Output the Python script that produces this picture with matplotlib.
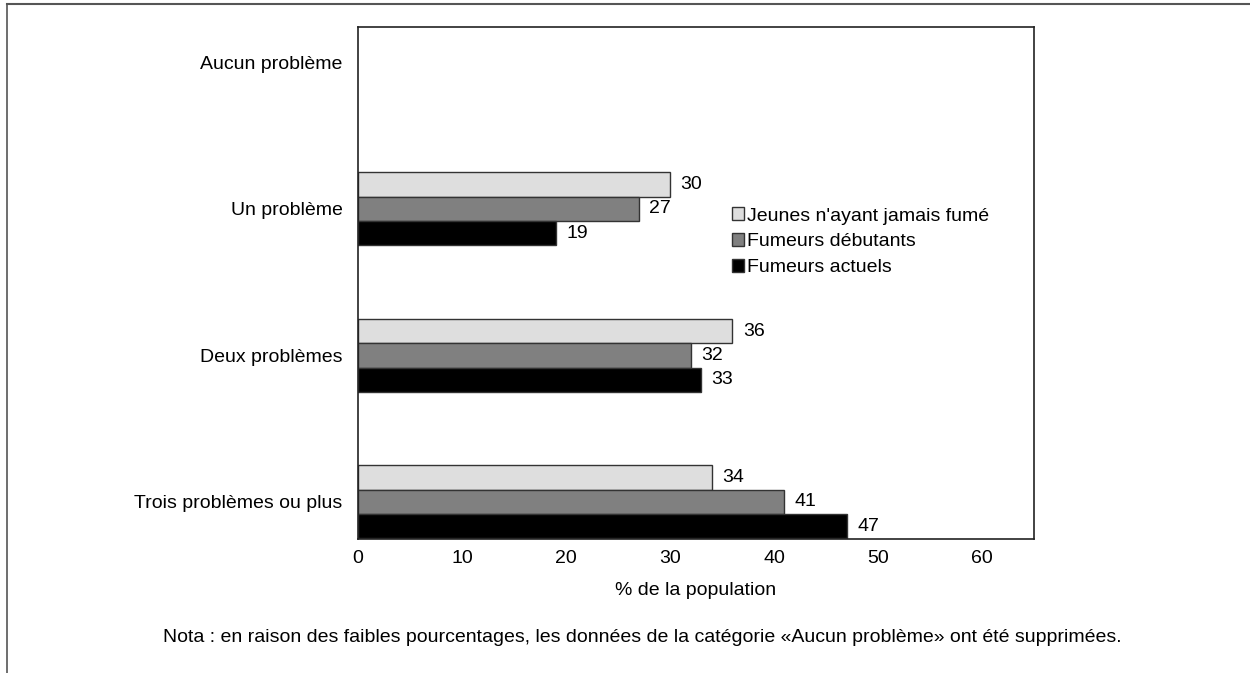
import matplotlib
matplotlib.use("Agg")
import matplotlib.pyplot as plt
from matplotlib.patches import Patch
import numpy as np

categories = ["Aucun problème", "Un problème", "Deux problèmes", "Trois problèmes ou plus"]
series_names = ["Jeunes n'ayant jamais fumé", "Fumeurs débutants", "Fumeurs actuels"]
never_smoked = [None, 30, 36, 34]
beginners = [None, 27, 32, 41]
current = [None, 19, 33, 47]
x_ticks = [0, 10, 20, 30, 40, 50, 60]
x_label = "% de la population"
note = "Nota : en raison des faibles pourcentages, les données de la catégorie «Aucun problème» ont été supprimées."

colors = ["#dedede", "#808080", "#000000"]
fs = 14

plt.rcParams["font.family"] = ["Liberation Sans", "DejaVu Sans"]

fig = plt.figure(figsize=(12.5, 6.73), dpi=100)
ax = fig.add_axes([358 / 1250, 1 - 539 / 673, (1034 - 358) / 1250, (539 - 27) / 673])

# outer frame lines (top and left)
fig.add_artist(plt.Line2D([7 / 1250, 7 / 1250], [0, 1 - 4 / 673], transform=fig.transFigure,
                          color="#555555", lw=1.2))
fig.add_artist(plt.Line2D([7 / 1250, 1], [1 - 4 / 673, 1 - 4 / 673], transform=fig.transFigure,
                          color="#555555", lw=1.5))

y = np.arange(len(categories))
h = 0.166
for i, (vals, col) in enumerate(zip([never_smoked, beginners, current], colors)):
    for j, v in enumerate(vals):
        if v is None:
            continue
        yy = y[j] + (i - 1) * h
        ax.barh(yy, v, height=h, color=col, edgecolor="#333333", linewidth=1.0)
        ax.text(v + 1.0, yy, f"{v}", va="center", ha="left", fontsize=fs)

ax.set_xlim(0, 65)
ax.set_ylim(3.253, -0.242)
ax.set_yticks(y)
ax.set_yticklabels(categories, fontsize=fs)
ax.set_xticks(x_ticks)
ax.set_xticklabels([str(t) for t in x_ticks], fontsize=fs)
ax.tick_params(axis="both", length=0)
ax.tick_params(axis="x", pad=8)
ax.tick_params(axis="y", pad=11)
ax.set_xlabel(x_label, fontsize=fs, labelpad=11)
for s in ax.spines.values():
    s.set_color("#222222")
    s.set_linewidth(1.2)

handles = [Patch(facecolor=c, edgecolor="#333333", linewidth=1.0) for c in colors]
leg = ax.legend(handles, series_names, loc="upper left", bbox_to_anchor=(0.553, 0.648),
                frameon=False, fontsize=fs, handlelength=0.65, handleheight=0.65,
                handletextpad=0.15, labelspacing=0.43, borderaxespad=0, borderpad=0)

fig.text(0.514, 1 - 637 / 673, note, ha="center", va="center", fontsize=fs)

fig.savefig("out.png", dpi=100)
